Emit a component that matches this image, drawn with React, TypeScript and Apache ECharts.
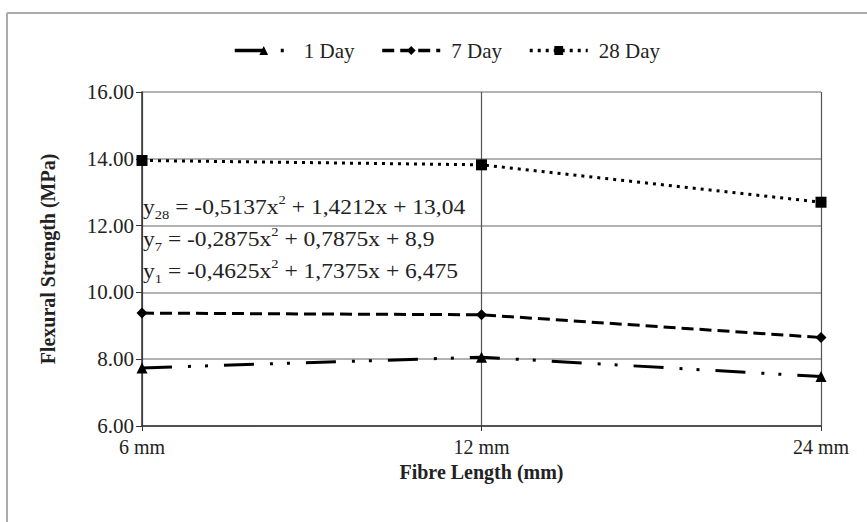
import React, { useEffect, useRef } from "react";
import * as echarts from "echarts";

const categories = ["6 mm", "12 mm", "24 mm"];
const day1 = [7.74, 8.06, 7.48];
const day7 = [9.38, 9.33, 8.65];
const day28 = [13.95, 13.82, 12.7];
const seriesNames = ["1 Day", "7 Day", "28 Day"];
const equations = [
  ["y", "28", " = -0,5137x", "2", " + 1,4212x + 13,04"],
  ["y", "7", " = -0,2875x", "2", " + 0,7875x + 8,9"],
  ["y", "1", " = -0,4625x", "2", " + 1,7375x + 6,475"],
];

const FONT = "'Liberation Serif', 'Times New Roman', serif";

export default function App() {
  const ref = useRef<HTMLDivElement>(null);
  useEffect(() => {
    if (!ref.current) return;
    const chart = echarts.init(ref.current, undefined, { renderer: "svg" });
    const eqY = [193, 225, 257];
    const eqGraphics = equations.map((e, i) => ({
      type: "text",
      x: 143,
      y: eqY[i],
      scaleX: 1.12,
      style: {
        text: `{b|${e[0]}}{sub|${e[1]}}{b|${e[2]}}{sup|${e[3]}}{b|${e[4]}}`,
        font: `21px ${FONT}`,
        fill: "#222",
        rich: {
          b: { fontFamily: FONT, fontSize: 21, fill: "#222", lineHeight: 24, verticalAlign: "bottom" },
          sub: { fontFamily: FONT, fontSize: 13, fill: "#222", lineHeight: 24, verticalAlign: "bottom", padding: [0, 0, -4, 0] },
          sup: { fontFamily: FONT, fontSize: 13, fill: "#222", lineHeight: 24, verticalAlign: "top" },
        },
      },
    }));
    const lineStyleBase = { color: "#000", width: 3 };
    chart.setOption({
      animation: false,
      backgroundColor: "#fff",
      textStyle: { fontFamily: FONT },
      legend: {
        top: 35,
        left: 228,
        itemWidth: 58,
        itemHeight: 11,
        itemGap: 26,
        lineStyle: { width: 3.5 },
        textStyle: { fontFamily: FONT, fontSize: 21, color: "#222", padding: [0, 0, 0, 6] },
        data: seriesNames,
      },
      grid: { left: 142, right: 46, top: 92, bottom: 96 },
      xAxis: {
        type: "category",
        data: categories,
        boundaryGap: false,
        name: "Fibre Length (mm)",
        nameLocation: "middle",
        nameGap: 28,
        nameTextStyle: { fontFamily: FONT, fontSize: 20, fontWeight: "bold", color: "#222" },
        axisLine: { lineStyle: { color: "#333", width: 1.5 } },
        axisTick: { show: true, alignWithLabel: true, length: 5, lineStyle: { color: "#333" } },
        axisLabel: { fontFamily: FONT, fontSize: 20, color: "#222", margin: 11 },
        splitLine: { show: true, lineStyle: { color: "#555", width: 1.2 } },
      },
      yAxis: {
        type: "value",
        min: 6,
        max: 16,
        interval: 2,
        name: "Flexural Strength (MPa)",
        nameLocation: "middle",
        nameGap: 84,
        nameTextStyle: { fontFamily: FONT, fontSize: 20, fontWeight: "bold", color: "#222" },
        axisLine: { show: true, lineStyle: { color: "#333", width: 1.5 } },
        axisTick: { show: true, length: 6, lineStyle: { color: "#333" } },
        axisLabel: {
          fontFamily: FONT,
          fontSize: 21,
          color: "#222",
          margin: 8,
          formatter: (v: number) => v.toFixed(2),
        },
        splitLine: { show: true, lineStyle: { color: "#999", width: 1.5 } },
      },
      graphic: [
        { type: "line", shape: { x1: 7, y1: 13, x2: 867, y2: 13 }, style: { stroke: "#aaa", lineWidth: 2 } },
        { type: "line", shape: { x1: 7, y1: 13, x2: 7, y2: 522 }, style: { stroke: "#aaa", lineWidth: 2 } },
        ...eqGraphics,
      ],
      series: [
        {
          name: seriesNames[0],
          type: "line",
          data: day1,
          symbol: "triangle",
          symbolSize: 11,
          itemStyle: { color: "#000" },
          lineStyle: { ...lineStyleBase, type: [30, 16, 3, 14, 3, 16] },
        },
        {
          name: seriesNames[1],
          type: "line",
          data: day7,
          symbol: "diamond",
          symbolSize: 11,
          itemStyle: { color: "#000" },
          lineStyle: { ...lineStyleBase, type: [12, 6] },
        },
        {
          name: seriesNames[2],
          type: "line",
          data: day28,
          symbol: "rect",
          symbolSize: 11,
          itemStyle: { color: "#000" },
          lineStyle: { ...lineStyleBase, type: [3, 5] },
        },
      ],
    });
    return () => chart.dispose();
  }, []);
  return (
    <div
      ref={ref}
      style={{ position: "fixed", left: 0, top: 0, width: 867, height: 522 }}
    />
  );
}
